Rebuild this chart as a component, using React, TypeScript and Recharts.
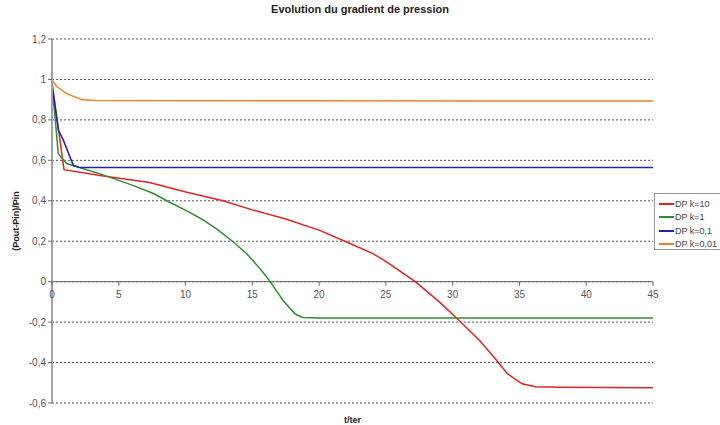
import React from "react"
import { LineChart, Line, XAxis, YAxis, CartesianGrid, ReferenceLine } from "recharts"

// t/ter values and (Pout-Pin)/Pin
const tK10 = [0, 0.9, 3.6, 7.3, 10.1, 12.8, 15, 17.5, 20, 22.1, 24, 25, 27.2, 29, 30.5, 32, 33.3, 34.1, 35.2, 36.2, 38, 45]
const dpK10 = [0.985, 0.554, 0.525, 0.49, 0.442, 0.4, 0.355, 0.31, 0.255, 0.195, 0.14, 0.1, 0.0, -0.1, -0.193, -0.29, -0.39, -0.455, -0.505, -0.52, -0.522, -0.525]

const tK1 = [0, 0.47, 1.1, 3.6, 6.1, 7.6, 8.6, 10.1, 11.2, 12.35, 13.6, 14.6, 15.6, 16.3, 17.3, 18.2, 18.8, 20, 45]
const dpK1 = [0.98, 0.633, 0.584, 0.533, 0.475, 0.436, 0.4, 0.35, 0.31, 0.26, 0.195, 0.137, 0.063, 0.004, -0.093, -0.16, -0.177, -0.18, -0.18]

const tK01 = [0, 0.47, 0.85, 1.6, 2.1, 45]
const dpK01 = [0.975, 0.75, 0.7, 0.574, 0.564, 0.565]

const tK001 = [0, 0.35, 1.1, 1.85, 2.3, 3.3, 45]
const dpK001 = [0.997, 0.965, 0.93, 0.91, 0.899, 0.896, 0.893]

const seriesNames = ["DP k=10", "DP k=1", "DP k=0,1", "DP k=0,01"]
const seriesColors = ["#e32222", "#2f8f2f", "#2222b0", "#f0821e"]

const xTicks = [0, 5, 10, 15, 20, 25, 30, 35, 40, 45]
const yTicks = [-0.6, -0.4, -0.2, 0, 0.2, 0.4, 0.6, 0.8, 1, 1.2]

const W = 720
const H = 425
const TOP = 39
const PLOT_H = 364
const Y_MIN = -0.6
const Y_MAX = 1.2
const zeroY = TOP + (PLOT_H * Y_MAX) / (Y_MAX - Y_MIN)
const FONT = "'Liberation Sans', Arial, sans-serif"

const toPoints = (ts: number[], vs: number[]) => ts.map((t, i) => ({ t, v: vs[i] }))
const series = [
  toPoints(tK10, dpK10),
  toPoints(tK1, dpK1),
  toPoints(tK01, dpK01),
  toPoints(tK001, dpK001),
]

const fmt = (v: number) => String(Math.round(v * 10) / 10).replace(".", ",")

// x ticks sit on the y=0 line, not at the bottom of the plot
const XTick = (props: any) => {
  const { x, payload } = props
  return (
    <g>
      <line x1={x} x2={x} y1={zeroY} y2={zeroY + 4} stroke="#666" />
      <text x={x} y={zeroY + 16} textAnchor="middle" fontSize={10} fill="#555" fontFamily={FONT}>
        {fmt(payload.value)}
      </text>
    </g>
  )
}

const YLabel = (props: any) => {
  const vb = props.viewBox
  const cy = vb.y + vb.height / 2
  return (
    <text
      x={16}
      y={cy}
      transform={`rotate(-90, 16, ${cy})`}
      textAnchor="middle"
      dominantBaseline="central"
      fontSize={9}
      fontWeight="bold"
      fill="#222"
      fontFamily={FONT}
    >
      (Pout-Pin)/Pin
    </text>
  )
}

export default function App() {
  return (
    <div style={{ position: "absolute", left: 0, top: 0, width: W, height: H, background: "#fff", fontFamily: FONT }}>
      <div
        style={{
          position: "absolute",
          top: 3,
          left: 0,
          width: W,
          textAlign: "center",
          fontSize: 11,
          fontWeight: "bold",
          color: "#222",
        }}
      >
        Evolution du gradient de pression
      </div>
      <LineChart width={W} height={H} margin={{ top: TOP, right: 67, left: 0, bottom: 0 }}>
        <CartesianGrid vertical={false} stroke="#555" strokeDasharray="2 2" />
        <XAxis
          dataKey="t"
          type="number"
          domain={[0, 45]}
          ticks={xTicks}
          interval={0}
          height={22}
          axisLine={false}
          tickLine={false}
          tick={<XTick />}
          label={{ value: "t/ter", position: "insideBottom", offset: 2, fontSize: 9, fontWeight: "bold", fill: "#222" }}
        />
        <YAxis
          type="number"
          domain={[Y_MIN, Y_MAX]}
          ticks={yTicks}
          interval={0}
          width={52}
          tickFormatter={fmt}
          tick={{ fontSize: 10, fill: "#555", fontFamily: FONT }}
          tickSize={4}
          tickLine={{ stroke: "#666" }}
          axisLine={{ stroke: "#a0a0a0", strokeWidth: 2 }}
          label={<YLabel />}
        />
        <ReferenceLine y={0} stroke="#666" strokeWidth={1} />
        {series.map((d, i) => (
          <Line
            key={seriesNames[i]}
            data={d}
            dataKey="v"
            name={seriesNames[i]}
            type="linear"
            stroke={seriesColors[i]}
            strokeWidth={1.5}
            dot={false}
            isAnimationActive={false}
          />
        ))}
      </LineChart>
      <div
        style={{
          position: "absolute",
          left: 654,
          top: 193,
          width: 70,
          height: 57,
          border: "1px solid #999",
          background: "#fff",
          boxSizing: "border-box",
          padding: "3px 0 0 4px",
        }}
      >
        {seriesNames.map((n, i) => (
          <div key={n} style={{ display: "flex", alignItems: "center", height: 13.5, fontSize: 9, color: "#444" }}>
            <span style={{ display: "inline-block", width: 15, height: 2, background: seriesColors[i], marginRight: 1 }} />
            {n}
          </div>
        ))}
      </div>
    </div>
  )
}
